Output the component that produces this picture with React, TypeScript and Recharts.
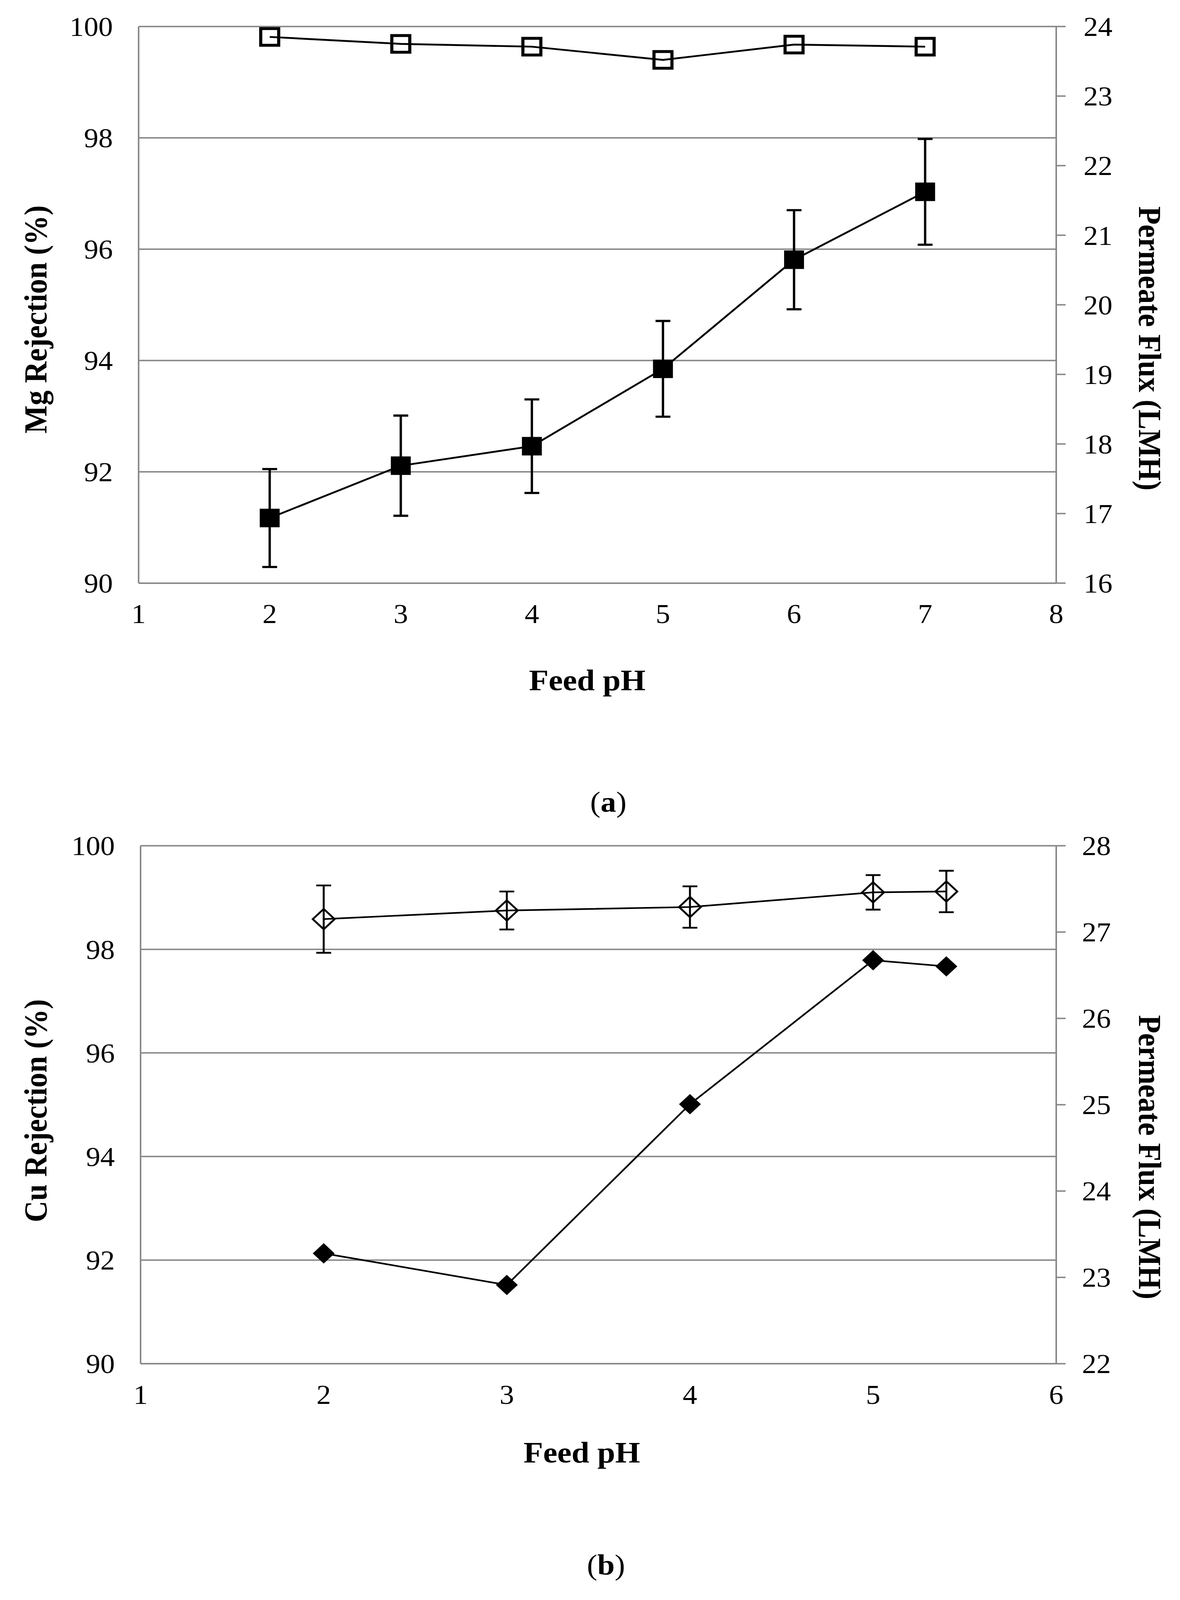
import React from "react";
import {
  ComposedChart,
  Line,
  XAxis,
  YAxis,
  CartesianGrid,
  ErrorBar,
} from "recharts";

// panel (a): Mg
const PH_A = [2, 3, 4, 5, 6, 7];
const MG_REJECTION = [91.17, 92.11, 92.46, 93.85, 95.81, 97.03];
const MG_REJECTION_ERR = [0.88, 0.9, 0.84, 0.86, 0.89, 0.95];
const FLUX_A = [23.85, 23.75, 23.71, 23.52, 23.74, 23.71];

// panel (b): Cu
const PH_B = [2, 3, 4, 5, 5.4];
const CU_REJECTION = [92.13, 91.52, 95.01, 97.79, 97.67];
const FLUX_B = [27.15, 27.25, 27.29, 27.46, 27.47];
const FLUX_B_ERR = [0.39, 0.22, 0.24, 0.2, 0.24];

const X_TICKS_A = [1, 2, 3, 4, 5, 6, 7, 8];
const X_TICKS_B = [1, 2, 3, 4, 5, 6];
const REJECTION_TICKS = [90, 92, 94, 96, 98, 100];
const FLUX_TICKS_A = [16, 17, 18, 19, 20, 21, 22, 23, 24];
const FLUX_TICKS_B = [22, 23, 24, 25, 26, 27, 28];

const GRAY = "#898989";
const FONT = '"Liberation Serif", "Times New Roman", serif';
const TICK = { fontSize: 74, fill: "#000", fontFamily: FONT };
const PAGE_W = 3022;
const PAGE_H = 4408;

const dataA = PH_A.map((ph, i) => ({
  ph,
  rej: MG_REJECTION[i],
  rejErr: MG_REJECTION_ERR[i],
  flux: FLUX_A[i],
}));

const dataB = PH_B.map((ph, i) => ({
  ph,
  rej: CU_REJECTION[i],
  flux: FLUX_B[i],
  fluxErr: FLUX_B_ERR[i],
}));

function filledSquare(p: any) {
  if (p.cx == null || p.cy == null) return <g key={`fs-${p.index}`} />;
  return (
    <rect
      key={`fs-${p.index}`}
      x={p.cx - 25.5}
      y={p.cy - 25.5}
      width={51}
      height={51}
      fill="#000"
    />
  );
}

function openSquare(p: any) {
  if (p.cx == null || p.cy == null) return <g key={`os-${p.index}`} />;
  return (
    <rect
      key={`os-${p.index}`}
      x={p.cx - 23}
      y={p.cy - 23}
      width={46}
      height={46}
      fill="none"
      stroke="#000"
      strokeWidth={8}
    />
  );
}

function diamondPath(cx: number, cy: number, r: number) {
  return `M${cx},${cy - r}L${cx + r},${cy}L${cx},${cy + r}L${cx - r},${cy}Z`;
}

function filledDiamond(p: any) {
  if (p.cx == null || p.cy == null) return <g key={`fd-${p.index}`} />;
  return <path key={`fd-${p.index}`} d={diamondPath(p.cx, p.cy, 28)} fill="#000" />;
}

function openDiamond(p: any) {
  if (p.cx == null || p.cy == null) return <g key={`od-${p.index}`} />;
  return (
    <path
      key={`od-${p.index}`}
      d={diamondPath(p.cx, p.cy, 28)}
      fill="none"
      stroke="#000"
      strokeWidth={5}
    />
  );
}

function Txt({ x, baseline, size, bold, children }: any) {
  return (
    <div
      style={{
        position: "absolute",
        left: x,
        top: baseline - 0.8375 * size,
        transform: "translateX(-50%)",
        fontSize: size,
        lineHeight: 1,
        fontWeight: bold ? "bold" : "normal",
        whiteSpace: "nowrap",
        fontFamily: FONT,
        color: "#000",
      }}
    >
      {children}
    </div>
  );
}

function VTxt({ cx, cy, angle, children }: any) {
  return (
    <div
      style={{
        position: "absolute",
        left: cx,
        top: cy,
        transform: `translate(-50%, -50%) rotate(${angle}deg)`,
        fontSize: 82,
        lineHeight: 1,
        fontWeight: "bold",
        whiteSpace: "nowrap",
        fontFamily: FONT,
        color: "#000",
      }}
    >
      {children}
    </div>
  );
}

export default function App() {
  // the visible viewport can be shorter than the figure; squeeze it to fit
  const vh = typeof window !== "undefined" ? window.innerHeight : PAGE_H;
  const k = Math.min(1, vh / PAGE_H);

  return (
    <div
      style={{
        position: "absolute",
        left: 0,
        top: 0,
        width: PAGE_W,
        height: PAGE_H,
        background: "#fff",
        fontFamily: FONT,
        transform: `scaleY(${k})`,
        transformOrigin: "0 0",
      }}
    >
      {/* (a) */}
      <div style={{ position: "absolute", left: 0, top: 0 }}>
        <ComposedChart
          width={PAGE_W}
          height={2260}
          data={dataA}
          margin={{ top: 73, right: 0, bottom: 553.5, left: 0 }}
        >
          <CartesianGrid
            yAxisId="left"
            vertical={false}
            stroke={GRAY}
            strokeWidth={4}
          />
          <XAxis
            dataKey="ph"
            type="number"
            domain={[1, 8]}
            ticks={X_TICKS_A}
            interval={0}
            height={100}
            axisLine={{ stroke: GRAY, strokeWidth: 4 }}
            tickLine={false}
            tickSize={0}
            tickMargin={58}
            tick={TICK}
          />
          <YAxis
            yAxisId="left"
            domain={[90, 100]}
            ticks={REJECTION_TICKS}
            interval={0}
            width={355}
            axisLine={{ stroke: GRAY, strokeWidth: 4 }}
            tickLine={false}
            tickSize={0}
            tickMargin={66}
            tick={TICK}
          />
          <YAxis
            yAxisId="right"
            orientation="right"
            domain={[16, 24]}
            ticks={FLUX_TICKS_A}
            interval={0}
            width={317}
            axisLine={{ stroke: GRAY, strokeWidth: 4 }}
            tickLine={{ stroke: GRAY, strokeWidth: 4 }}
            tickSize={24}
            tickMargin={46}
            tick={TICK}
          />
          <Line
            yAxisId="left"
            dataKey="rej"
            type="linear"
            stroke="#000"
            strokeWidth={5}
            dot={filledSquare}
            activeDot={false}
            isAnimationActive={false}
          >
            <ErrorBar
              dataKey="rejErr"
              direction="y"
              width={19}
              stroke="#000"
              strokeWidth={6}
            />
          </Line>
          <Line
            yAxisId="right"
            dataKey="flux"
            type="linear"
            stroke="#000"
            strokeWidth={5}
            dot={openSquare}
            activeDot={false}
            isAnimationActive={false}
          />
        </ComposedChart>
      </div>

      <VTxt cx={92} cy={880} angle={-90}>
        Mg Rejection (%)
      </VTxt>
      <VTxt cx={2944} cy={960} angle={90}>
        Permeate Flux (LMH)
      </VTxt>
      <Txt x={1504} baseline={1903} size={82} bold>
        Feed pH
      </Txt>
      <Txt x={1558} baseline={2236} size={80}>
        (<b>a</b>)
      </Txt>

      {/* (b) */}
      <div style={{ position: "absolute", left: 0, top: 2260 }}>
        <ComposedChart
          width={PAGE_W}
          height={2148}
          data={dataB}
          margin={{ top: 70, right: 0, bottom: 551, left: 0 }}
        >
          <CartesianGrid
            yAxisId="left"
            vertical={false}
            stroke={GRAY}
            strokeWidth={4}
          />
          <XAxis
            dataKey="ph"
            type="number"
            domain={[1, 6]}
            ticks={X_TICKS_B}
            interval={0}
            height={100}
            axisLine={{ stroke: GRAY, strokeWidth: 4 }}
            tickLine={false}
            tickSize={0}
            tickMargin={58}
            tick={TICK}
          />
          <YAxis
            yAxisId="left"
            domain={[90, 100]}
            ticks={REJECTION_TICKS}
            interval={0}
            width={360}
            axisLine={{ stroke: GRAY, strokeWidth: 4 }}
            tickLine={false}
            tickSize={0}
            tickMargin={66}
            tick={TICK}
          />
          <YAxis
            yAxisId="right"
            orientation="right"
            domain={[22, 28]}
            ticks={FLUX_TICKS_B}
            interval={0}
            width={317}
            axisLine={{ stroke: GRAY, strokeWidth: 4 }}
            tickLine={{ stroke: GRAY, strokeWidth: 4 }}
            tickSize={24}
            tickMargin={42}
            tick={TICK}
          />
          <Line
            yAxisId="left"
            dataKey="rej"
            type="linear"
            stroke="#000"
            strokeWidth={4.5}
            dot={filledDiamond}
            activeDot={false}
            isAnimationActive={false}
          />
          <Line
            yAxisId="right"
            dataKey="flux"
            type="linear"
            stroke="#000"
            strokeWidth={4.5}
            dot={openDiamond}
            activeDot={false}
            isAnimationActive={false}
          >
            <ErrorBar
              dataKey="fluxErr"
              direction="y"
              width={19}
              stroke="#000"
              strokeWidth={5}
            />
          </Line>
        </ComposedChart>
      </div>

      <VTxt cx={92} cy={3060} angle={-90}>
        Cu Rejection (%)
      </VTxt>
      <VTxt cx={2944} cy={3188} angle={90}>
        Permeate Flux (LMH)
      </VTxt>
      <Txt x={1490} baseline={4030} size={82} bold>
        Feed pH
      </Txt>
      <Txt x={1552} baseline={4338} size={80}>
        (<b>b</b>)
      </Txt>
    </div>
  );
}
